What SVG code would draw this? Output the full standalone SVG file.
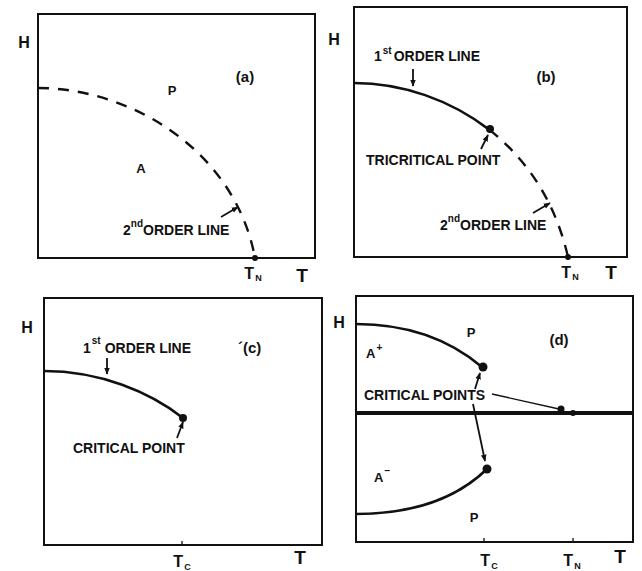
<svg xmlns="http://www.w3.org/2000/svg" width="642" height="571" viewBox="0 0 642 571">
<defs>
<marker id="ah" viewBox="0 0 10 10" refX="9" refY="5" markerWidth="7" markerHeight="7" orient="auto" markerUnits="userSpaceOnUse">
<path d="M0,1 L10,5 L0,9 Z" fill="#111"/>
</marker>
</defs>
<style>
.box{fill:none;stroke:#111;stroke-width:2}
.crv{fill:none;stroke:#111;stroke-width:2.6}
.dsh{fill:none;stroke:#111;stroke-width:2.4;stroke-dasharray:11 9}
.arr{fill:none;stroke:#111;stroke-width:1.8;marker-end:url(#ah)}
.thin{fill:none;stroke:#111;stroke-width:1.3}
.dot{fill:#111}
text{font-family:"Liberation Sans",Arial,sans-serif;font-weight:bold;fill:#111}
.lab{font-size:14px}
.sup{font-size:10px}
.ax{font-size:16px}
.axT{font-size:19px}
.sub{font-size:9px}
.pan{font-size:15px}
.ph{font-size:13px}
</style>
<rect width="642" height="571" fill="#fff"/>

<g id="panel-a">
<rect class="box" x="38" y="14" width="277" height="244"/>
<text class="ax" x="24" y="48" text-anchor="middle">H</text>
<text class="pan" x="245" y="82" text-anchor="middle">(a)</text>
<text class="ph" x="172" y="95" text-anchor="middle">P</text>
<text class="ph" x="141" y="173" text-anchor="middle">A</text>
<text class="lab" x="123" y="235">2<tspan class="sup" dy="-8">nd</tspan><tspan dy="8">ORDER LINE</tspan></text>
<text class="ax" x="253" y="279" text-anchor="middle">T<tspan class="sub" dx="1" dy="2">N</tspan></text>
<text class="axT" x="302" y="282" text-anchor="middle">T</text>
</g>

<g id="panel-b">
<rect class="box" x="354" y="7" width="273" height="250"/>
<text class="ax" x="334" y="45" text-anchor="middle">H</text>
<text class="pan" x="546" y="82" text-anchor="middle">(b)</text>
<text class="lab" x="374" y="61">1<tspan class="sup" dx="1" dy="-7">st</tspan><tspan dx="2" dy="7">ORDER LINE</tspan></text>
<text class="lab" x="366" y="165">TRICRITICAL POINT</text>
<text class="lab" x="440" y="230">2<tspan class="sup" dy="-8">nd</tspan><tspan dy="8">ORDER LINE</tspan></text>
<text class="ax" x="570" y="278" text-anchor="middle">T<tspan class="sub" dx="1" dy="2">N</tspan></text>
<text class="axT" x="611" y="279" text-anchor="middle">T</text>
</g>

<g id="panel-c">
<rect class="box" x="44" y="298" width="278" height="247"/>
<text class="ax" x="27" y="333" text-anchor="middle">H</text>
<text class="lab" x="83" y="353">1<tspan class="sup" dx="1" dy="-9">st</tspan><tspan dx="4" dy="9">ORDER LINE</tspan></text>
<text class="pan" x="238" y="353">´(c)</text>
<text class="lab" x="73" y="453">CRITICAL POINT</text>
<text class="ax" x="182" y="567" text-anchor="middle">T<tspan class="sub" dx="1" dy="3">C</tspan></text>
<text class="axT" x="300" y="564" text-anchor="middle">T</text>
</g>

<g id="panel-d">
<rect class="box" x="356" y="296" width="277" height="246"/>
<text class="ax" x="339" y="328" text-anchor="middle">H</text>
<text class="ph" x="366" y="358">A<tspan class="sup" dx="1" dy="-7">+</tspan></text>
<text class="ph" x="471" y="337" text-anchor="middle">P</text>
<text class="pan" x="559" y="345" text-anchor="middle">(d)</text>
<text class="lab" x="364" y="400">CRITICAL POINTS</text>
<text class="ph" x="374" y="482">A<tspan class="sup" dx="1" dy="-8">−</tspan></text>
<text class="ph" x="474" y="522" text-anchor="middle">P</text>
<text class="ax" x="489" y="566" text-anchor="middle">T<tspan class="sub" dx="1" dy="3">C</tspan></text>
<text class="ax" x="572" y="566" text-anchor="middle">T<tspan class="sub" dx="1" dy="3">N</tspan></text>
<text class="axT" x="620" y="563" text-anchor="middle">T</text>
</g>

<g id="connectors">
<!-- (a) -->
<path class="dsh" d="M38,88 C130,88 235,150 255,258"/>
<circle class="dot" cx="255" cy="258" r="3"/>
<line class="arr" x1="221" y1="217" x2="238" y2="207"/>
<!-- (b) -->
<path class="crv" d="M354,83 C402,83 450.5,99.75 489.5,129.9"/>
<path class="dsh" d="M489.5,129.9 C530,162 556,205 568,257"/>
<circle class="dot" cx="490" cy="129" r="4"/>
<circle class="dot" cx="568" cy="257" r="3"/>
<line class="arr" x1="413" y1="69" x2="413" y2="86"/>
<line class="arr" x1="481" y1="149" x2="488" y2="135"/>
<line class="arr" x1="533" y1="213" x2="550" y2="203"/>
<!-- (c) -->
<path class="crv" d="M44,371 C100,371 150,392 183,418"/>
<circle class="dot" cx="183" cy="418" r="4"/>
<line class="arr" x1="107" y1="358" x2="107" y2="374"/>
<line class="arr" x1="177" y1="438" x2="183" y2="422"/>
<path class="thin" d="M182,545 L182,541"/>
<!-- (d) -->
<path class="crv" d="M356,324 C410,324 450,340 482,367"/>
<path class="crv" d="M356,514 C410,514 455,500 487,469"/>
<line x1="356" y1="413" x2="633" y2="413" stroke="#111" stroke-width="4"/>
<circle class="dot" cx="483" cy="367" r="4.5"/>
<circle class="dot" cx="487" cy="469" r="4.5"/>
<circle class="dot" cx="561" cy="409" r="3.5"/>
<circle class="dot" cx="573" cy="413" r="3"/>
<line class="arr" x1="475" y1="389" x2="480" y2="373"/>
<line class="thin" x1="492" y1="394" x2="559" y2="409"/>
<line class="arr" x1="473" y1="404" x2="485" y2="461"/>
<path class="thin" d="M484,542 L484,538 M573,542 L573,538"/>
</g>
</svg>
